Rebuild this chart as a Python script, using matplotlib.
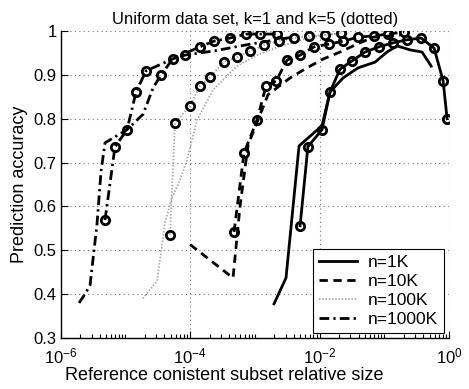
import math
import matplotlib
matplotlib.use("Agg")
import matplotlib.pyplot as plt
from matplotlib.lines import Line2D
from matplotlib.ticker import FixedLocator, FuncFormatter, NullFormatter

plt.rcParams['font.family'] = ['Liberation Sans', 'DejaVu Sans']
plt.rcParams['mathtext.fontset'] = 'custom'
plt.rcParams['mathtext.rm'] = 'Liberation Sans'
plt.rcParams['mathtext.it'] = 'Liberation Sans'

title = "Uniform data set, k=1 and k=5 (dotted)"
xlabel = "Reference conistent subset relative size"
ylabel = "Prediction accuracy"
legend_labels = ["n=1K", "n=10K", "n=100K", "n=1000K"]

# n=1K
n1k_k1_x = [1.98e-3, 3.03e-3, 4.82e-3, 1.09e-2, 1.45e-2, 2.31e-2, 3.94e-2, 7.2e-2, 0.11, 0.158, 0.25, 0.384, 0.53]
n1k_k1_y = [0.378, 0.437, 0.738, 0.784, 0.861, 0.893, 0.916, 0.929, 0.952, 0.966, 0.957, 0.952, 0.92]
n1k_k5_x = [5.0e-3, 6.6e-3, 1.09e-2, 1.45e-2, 2.07e-2, 3.18e-2, 5.05e-2, 8.3e-2, 0.137, 0.225, 0.371, 0.589, 0.811, 0.935]
n1k_k5_y = [0.556, 0.736, 0.775, 0.861, 0.913, 0.932, 0.952, 0.964, 0.973, 0.98, 0.984, 0.961, 0.886, 0.80]

# n=10K
n10k_k1_x = [1.0e-4, 4.6e-4, 5.9e-4, 7.85e-4, 1.6e-3, 3.5e-3, 6.4e-3, 1.13e-2, 2.07e-2, 3.54e-2, 6.7e-2, 0.175]
n10k_k1_y = [0.513, 0.437, 0.60, 0.74, 0.855, 0.893, 0.916, 0.936, 0.952, 0.968, 0.986, 0.99]
n10k_k5_x = [4.77e-4, 6.8e-4, 1.08e-3, 1.49e-3, 2.13e-3, 3.15e-3, 5.0e-3, 8.2e-3, 1.4e-2, 2.31e-2, 3.94e-2, 6.95e-2, 0.115, 0.202]
n10k_k5_y = [0.542, 0.722, 0.797, 0.875, 0.886, 0.934, 0.945, 0.964, 0.97, 0.977, 0.986, 0.989, 0.993, 0.998]

# n=100K
n100k_k1_x = [1.87e-5, 3.08e-5, 3.43e-5, 4.09e-5, 5.25e-5, 6.97e-5, 8.96e-5, 1.28e-4, 2.26e-4, 5.3e-4, 1.08e-3, 2.45e-3, 7.1e-3, 2.07e-2]
n100k_k1_y = [0.39, 0.43, 0.48, 0.563, 0.62, 0.66, 0.706, 0.797, 0.866, 0.92, 0.945, 0.965, 0.985, 0.995]
n100k_k5_x = [4.89e-5, 5.25e-5, 5.84e-5, 9.95e-5, 1.42e-4, 2.03e-4, 3.34e-4, 5.3e-4, 8.4e-4, 1.39e-3, 2.37e-3, 4.04e-3, 6.89e-3, 1.22e-2, 2.15e-2]
n100k_k5_y = [0.535, 0.64, 0.79, 0.83, 0.875, 0.895, 0.93, 0.94, 0.954, 0.968, 0.977, 0.984, 0.989, 0.991, 0.995]

# n=1000K
n1000k_k1_x = [1.92e-6, 2.37e-6, 2.84e-6, 3.64e-6, 4.2e-6, 4.84e-6, 1.06e-5, 1.87e-5, 2.67e-5, 3.55e-5, 5.43e-5, 8.33e-5, 2.43e-4, 8.4e-4, 3.5e-3]
n1000k_k1_y = [0.38, 0.40, 0.42, 0.56, 0.68, 0.745, 0.775, 0.81, 0.87, 0.90, 0.937, 0.945, 0.955, 0.97, 0.985]
n1000k_k5_x = [4.84e-6, 6.9e-6, 1.06e-5, 1.46e-5, 2.08e-5, 1.42e-4, 2.34e-4, 4.14e-4, 7.3e-4, 1.2e-3, 2.2e-3]
n1000k_k5_y = [0.569, 0.736, 0.775, 0.861, 0.909, 0.964, 0.977, 0.984, 0.993, 0.993, 0.993]

W, H = 469, 389
fig = plt.figure(figsize=(W / 100, H / 100), dpi=100)
ax = fig.add_axes([60.7 / W, 1 - 338 / H, (449 - 60.7) / W, (338 - 31) / H])

styles = {
    "solid": dict(color="k", lw=2.0, ls="-"),
    "dashed": dict(color="k", lw=2.0, ls=(0, (3, 2))),
    "dotted": dict(color="0.65", lw=1.3, ls=(0, (0.8, 1))),
    "dashdot": dict(color="k", lw=2.0, ls=(0, (3.5, 1.5, 0.8, 1.5))),
}
mk = dict(marker="o", ms=6, mfc="none", mec="k", mew=2.0)

ax.plot(n1k_k1_x, n1k_k1_y, **styles["solid"])
ax.plot(n1k_k5_x, n1k_k5_y, **styles["solid"], **mk)
ax.plot(n10k_k1_x, n10k_k1_y, **styles["dashed"])
ax.plot(n10k_k5_x, n10k_k5_y, **styles["dashed"], **mk)
ax.plot(n100k_k1_x, n100k_k1_y, **styles["dotted"])
ax.plot(n100k_k5_x, n100k_k5_y, **styles["dotted"], markevery=[0] + list(range(2, len(n100k_k5_x))), **mk)
ax.plot(n1000k_k1_x, n1000k_k1_y, **styles["dashdot"], markevery=[9, 10, 11], **mk)
ax.plot(n1000k_k5_x, n1000k_k5_y, **styles["dashdot"], **mk)

ax.set_xscale("log")
ax.set_xlim(1e-6, 1)
ax.set_ylim(0.3, 1)
ax.xaxis.set_major_locator(FixedLocator([1e-6, 1e-4, 1e-2, 1]))
minors = [m * 10.0 ** e for e in range(-6, 0) for m in range(2, 10)] + [10.0 ** e for e in (-5, -3, -1)]
ax.xaxis.set_minor_locator(FixedLocator(minors))
ax.xaxis.set_minor_formatter(NullFormatter())
ax.xaxis.set_major_formatter(FuncFormatter(lambda v, p: r"$10^{%d}$" % round(math.log10(v))))
ax.set_yticks([0.3, 0.4, 0.5, 0.6, 0.7, 0.8, 0.9, 1.0])
ax.yaxis.set_major_formatter(FuncFormatter(lambda v, p: "%g" % round(v, 2)))

ax.tick_params(which="both", direction="in", top=False, right=False, labelsize=12, width=0.8)
ax.tick_params(axis="x", which="major", pad=6)
ax.tick_params(axis="y", which="major", pad=3)
ax.tick_params(which="major", length=5)
ax.tick_params(which="minor", length=3)
ax.spines["top"].set_visible(False)
ax.spines["right"].set_visible(False)
for s in ("left", "bottom"):
    ax.spines[s].set_linewidth(1.0)

ax.grid(True, which="major", color="0.45", ls=(0, (1, 3)), lw=0.8)

ax.set_title(title, fontsize=12, pad=5)
ax.set_xlabel(xlabel, fontsize=13)
ax.xaxis.set_label_coords((224.5 - 60.7) / (449 - 60.7), -(376 - 338) / (338 - 31))
ax.xaxis.label.set_va("center")
ax.set_ylabel(ylabel, fontsize=13, labelpad=4)

handles = [Line2D([], [], **styles[s]) for s in ("solid", "dashed", "dotted", "dashdot")]
leg = ax.legend(handles, legend_labels, loc="lower right", fontsize=12.5, frameon=True,
                fancybox=False, edgecolor="k", framealpha=1, handlelength=2.2,
                handletextpad=0.6, borderaxespad=0.3, labelspacing=0.22, borderpad=0.35)
leg.get_frame().set_linewidth(0.8)

fig.savefig("out.png", dpi=100)
